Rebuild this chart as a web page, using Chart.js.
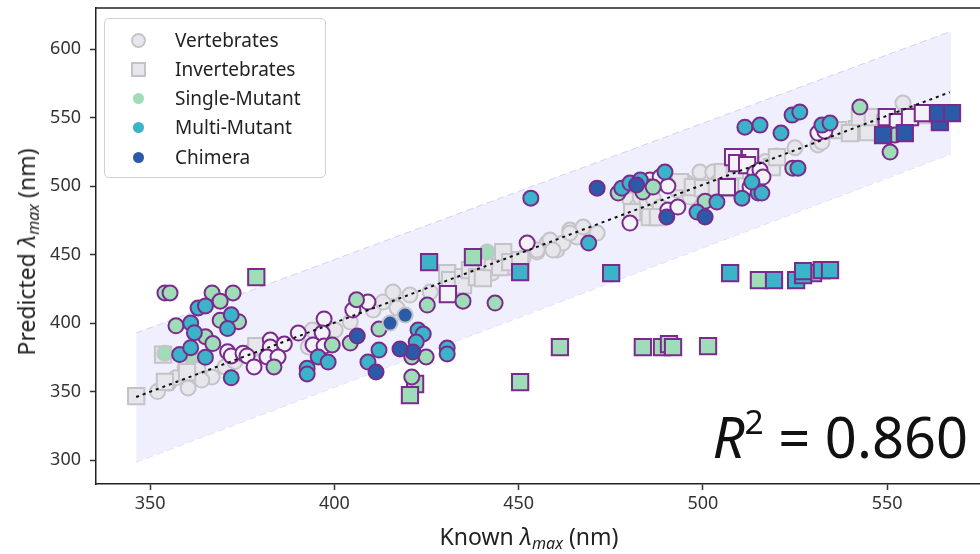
<!DOCTYPE html>
<html>
<head>
<meta charset="utf-8">
<script src="https://cdn.jsdelivr.net/npm/chart.js@4/dist/chart.umd.min.js"></script>
<style>
  body { margin: 0; background: #fff; font-family: 'Noto Sans', sans-serif; color: #222; }
  #wrap { position: relative; width: 980px; height: 554px; overflow: hidden; }
  #legend {
    position: absolute; left: 104px; top: 18px; width: 222px; height: 160px;
    border: 1.5px solid #d0d0d0; border-radius: 5px; background: rgba(255,255,255,0.85);
    box-sizing: border-box;
  }
  .row { position: absolute; left: 0; height: 29px; line-height: 29px; font-size: 19px; }
  .row span.t { position: absolute; left: 70px; white-space: nowrap; }
  .mk { position: absolute; box-sizing: border-box; }
  .ytitle {
    position: absolute; left: 27px; top: 252px; font-size: 23px; white-space: nowrap;
    transform: translate(-50%, -50%) rotate(-90deg);
  }
  .xtitle { position: absolute; left: 529px; top: 537px; font-size: 23px; white-space: nowrap; transform: translate(-50%, -50%); }
  .lam { font-style: italic; }
  sub { font-size: 0.7em; font-style: italic; vertical-align: -0.25em; }
  #r2 { position: absolute; right: 12px; top: 398px; font-size: 56px; white-space: nowrap; color: #111; }
  #r2 i { font-style: italic; }
  #r2 sup { font-size: 0.6em; vertical-align: 0.7em; line-height: 0; }
</style>
</head>
<body>
<div id="wrap">
  <canvas id="myChart" width="980" height="554"></canvas>
  <div id="legend">
    <div class="row" style="top:7px"><div class="mk" style="left:26px;top:7px;width:15px;height:15px;border-radius:50%;background:#e6e6ec;border:2px solid #c4c4c8"></div><span class="t">Vertebrates</span></div>
    <div class="row" style="top:36px"><div class="mk" style="left:26px;top:7px;width:15px;height:15px;background:#e6e6ec;border:2px solid #c4c4c8"></div><span class="t">Invertebrates</span></div>
    <div class="row" style="top:65px"><div class="mk" style="left:28px;top:9px;width:11px;height:11px;border-radius:50%;background:#9fdcb8"></div><span class="t">Single-Mutant</span></div>
    <div class="row" style="top:94px"><div class="mk" style="left:28px;top:9px;width:11px;height:11px;border-radius:50%;background:#3bb3c8"></div><span class="t">Multi-Mutant</span></div>
    <div class="row" style="top:124px"><div class="mk" style="left:28px;top:9px;width:11px;height:11px;border-radius:50%;background:#2a5aa8"></div><span class="t">Chimera</span></div>
  </div>
  <div class="ytitle">Predicted <span class="lam">λ</span><sub>max</sub> (nm)</div>
  <div class="xtitle">Known <span class="lam">λ</span><sub>max</sub> (nm)</div>
  <div id="r2"><i>R</i><sup>2</sup> = 0.860</div>
</div>
<script>
// 축 눈금
const xTicks = [350, 400, 450, 500, 550];
const yTicks = [300, 350, 400, 450, 500, 550, 600];

// 회귀선과 오차 범위
const fitX = [346.2, 567];
const fitY = [346, 568.5];
const bandX = [346.2, 567.3];
const bandUpper = [392.7, 613];
const bandLower = [298.5, 523.4];

// 야생형 (학습)
const vertebrates = [[352,350],[355,356],[357,360],[359.5,368],[361.4,363.5],[363,366],[366.8,360.6],[360.3,352.6],[364,358.4],[370.3,368],[373,372],[375,377],[378,381],[383,386],
  [392.9,382.5],[394,394.9],[399.4,393.4],[400.2,394.9],[404.3,400.7],[410.5,409.5],[413.2,415.3],[415.9,422.6],[417,411],[420.5,420.4],[426,422.6],[442.8,436.5],[445,442.3],[447.7,440.9],[451.2,447.4],[453.1,455.5],[455,451.8],[457.7,458.4],[455,453.3],[458.5,460.6],[460.4,453.3],[462,458.4],[463.9,467.9],[465.8,462.8],[467.5,470.1],[471.3,465.7],[459.3,453.3],[463.9,465.7],
  [480.2,489.8],[482,484.7],[483,492],[484.8,487.6],[486.5,491.2],[488.4,484.7],[493,497],[495.7,502.2],[501.1,508],[499.2,510.2],[502.7,510.2],[505.4,509.5],[503.8,502.2],[496.5,492],[517,518],[520,522],[525,528],[531.2,530],[532.3,532],[554.3,560.6]];
const invertebrates = [[346.2,346.7],[354,357],[360,364.2],[353.5,377],[378.8,383.2],[430.6,436.5],[431.4,431.4],[434.9,433.6],[434.9,427.7],[436.8,438.7],[438.7,433.6],[440.3,432.8],[443,444.5],[445,440.9],[445.8,451.8],[447.7,444.5],[450.4,446],
  [480.8,481],[485.6,477.4],[487.8,477.4],[493.8,502.9],[497.3,499.3],[500,498.5],[503.8,499.3],[507.4,498.5],[505.4,510.2],[508.7,511.7],[518.7,513.9],[520.1,521.2],[536.7,540.9],[541.8,541.6],[544.8,539.4],[539.9,538.7],[542.6,550.4],[546.1,550.4],[549.4,546],[552.9,548.2],[555.4,550.4],[559.4,551.8]];

// 야생형 (테스트, 보라 테두리)
const vertTest = [[371,379],[372,376],[375.2,378],[376.3,376],[378.2,368],[382.6,387.6],[382.6,382.5],[386.4,384.7],[381.7,375.2],[384.7,375.2],[390.2,392.7],[397.2,403],[396.7,392.7],[394.2,384],[397.2,383.2],[405,409.5],[409.1,415.3],[452.3,458.4],[480.2,473],[490.5,482.5],[493.2,484.7],[485.6,504.4],[488.4,506.6],[490.5,500],[485.6,499.3],[514.1,509.5],[512.8,499.3],[515.5,511.7],[516.3,506.6],[531.2,538.7],[533.1,540.1]];
const invTest = [[430.8,421.2],[508.2,521.2],[512.8,521.2],[509.3,516.8],[512,515.3],[506.5,499.3],[549.9,550.4],[552.9,546.7],[556.2,550.4],[559.7,553.3]];

// 돌연변이
const singleCirc = [[354,422],[355.4,422],[366.8,422],[369,416],[372.5,422],[357,398],[365,390],[367,385],[369,402],[374,401],[383.6,368],[399.4,384],[404.3,385.4],[406,417],[412.1,395.6],[421,375.2],[424.9,375.2],[421,360.6],[425.2,413.1],[434.9,416],[443.6,414.6],[477,494.9],[483.7,495.6],[486.5,499.3],[500.6,489],[524.4,513.1],[542.6,557.7],[550.8,524.8],[552.1,537.2]];
const singlePlain = [[354,378],[361,376],[441.4,451.8]];
const singleSq = [[378.8,433.6],[437.6,448.2],[421.9,355.5],[420.5,347.4],[450.4,356.9],[461.2,382.5],[483.7,382.5],[488.9,382.5],[490.8,384.7],[491.9,382.5],[501.4,383.2],[515.2,431.4],[529.9,436.5]];
const multiCirc = [[363,411],[365,412.5],[361,400],[362,393],[372,406],[371,396],[358,377],[361,382],[365,375],[372,360],[395.6,375.2],[398.3,371.5],[392.6,367],[392.6,362.8],[422.7,394.9],[424.1,392],[422.2,386.1],[412.1,380.3],[430.6,381.8],[430.6,377.4],[409.1,371.5],[453.3,491.2],[469,458.4],[478,498.5],[480.2,502.2],[483,504.4],[489.7,510.2],[498.4,481],[503.8,488.3],[510.6,491.2],[515,494.9],[513.3,502.9],[511.4,543],[515.5,544.5],[521.2,538.7],[524.2,551.8],[526.3,554],[532.3,544.5],[534.5,546],[525.8,513.1],[516,494.9]];
const multiSq = [[425.7,444.5],[450.4,437.2],[475.1,436.5],[507.4,436.5],[519.3,431.4],[525.3,431.4],[527.2,435],[527.2,437.9],[532.3,438.7],[534.5,438.7]];
const chimeraCirc = [[406.2,390.5],[421.3,378.8],[417.8,381],[411.3,364.2],[471.3,498.5],[482,500.7],[490.2,477.4],[500.6,477.4]];
const chimeraPlain = [[419.2,405.8],[415.1,400]];
const chimeraSq = [[548.9,537.2],[554.8,538.7],[564.3,546.7],[563.8,553.3],[567.6,553.3]];

const GRAY_FILL = '#e6e6ec', GRAY_EDGE = '#c4c4c8', PURPLE = '#7a2a8c';
const GREEN = '#9fdcb8', TEAL = '#3bb3c8', BLUE = '#2a5aa8', WHITE = '#f2f2f8';

function pts(arr) {
  return arr.map(p => ({ x: p[0], y: p[1] }));
}

// 산점도 데이터셋 생성
function scatterSet(label, arr, style, fill, edge, order) {
  return {
    type: 'scatter',
    label: label,
    data: pts(arr),
    pointStyle: style,
    pointRadius: style === 'rect' ? 11.5 : 7.5,
    pointBackgroundColor: fill,
    pointBorderColor: edge,
    pointBorderWidth: 2,
    showLine: false,
    order: order
  };
}

// 위쪽 테두리선
const framePlugin = {
  id: 'frame',
  afterDraw(chart) {
    const { ctx, chartArea } = chart;
    ctx.save();
    ctx.strokeStyle = '#222';
    ctx.lineWidth = 1.5;
    ctx.beginPath();
    ctx.moveTo(chartArea.left, chartArea.top);
    ctx.lineTo(chartArea.right + 5, chartArea.top);
    ctx.stroke();
    ctx.restore();
  }
};

const ctx = document.getElementById('myChart').getContext('2d');
new Chart(ctx, {
  type: 'scatter',
  data: {
    datasets: [
      {
        type: 'line', label: 'band-upper',
        data: bandX.map((x, i) => ({ x: x, y: bandUpper[i] })),
        borderColor: 'rgba(205,205,245,0.9)', borderDash: [7, 4], borderWidth: 1,
        pointRadius: 0, fill: '+1', backgroundColor: '#efeffd', order: 20
      },
      {
        type: 'line', label: 'band-lower',
        data: bandX.map((x, i) => ({ x: x, y: bandLower[i] })),
        borderColor: 'rgba(205,205,245,0.9)', borderDash: [7, 4], borderWidth: 1,
        pointRadius: 0, fill: false, order: 21
      },
      scatterSet('Vertebrates', vertebrates, 'circle', GRAY_FILL, GRAY_EDGE, 12),
      scatterSet('Invertebrates', invertebrates, 'rect', GRAY_FILL, GRAY_EDGE, 11),
      scatterSet('vertTest', vertTest, 'circle', WHITE, PURPLE, 8),
      scatterSet('invTest', invTest, 'rect', WHITE, PURPLE, 8),
      scatterSet('Single-Mutant', singleCirc, 'circle', GREEN, PURPLE, 5),
      scatterSet('single-plain', singlePlain, 'circle', GREEN, GRAY_EDGE, 6),
      scatterSet('single-sq', singleSq, 'rect', GREEN, PURPLE, 5),
      scatterSet('Multi-Mutant', multiCirc, 'circle', TEAL, PURPLE, 4),
      scatterSet('multi-sq', multiSq, 'rect', TEAL, PURPLE, 4),
      scatterSet('Chimera', chimeraCirc, 'circle', BLUE, PURPLE, 3),
      scatterSet('chimera-plain', chimeraPlain, 'circle', BLUE, GRAY_EDGE, 3),
      scatterSet('chimera-sq', chimeraSq, 'rect', BLUE, PURPLE, 3),
      {
        type: 'line', label: 'fit',
        data: fitX.map((x, i) => ({ x: x, y: fitY[i] })),
        borderColor: '#111', borderDash: [3, 4], borderWidth: 2,
        pointRadius: 0, fill: false, order: 0
      }
    ]
  },
  options: {
    responsive: false,
    animation: false,
    devicePixelRatio: 1,
    layout: { autoPadding: false, padding: { top: 8, right: 0, left: 0, bottom: 0 } },
    plugins: { legend: { display: false }, tooltip: { enabled: false } },
    scales: {
      x: {
        type: 'linear', min: 335.3, max: 575.2,
        afterBuildTicks: s => { s.ticks = xTicks.map(v => ({ value: v })); },
        afterFit: s => { s.height = 70; s.paddingLeft = 0; s.paddingRight = 0; },
        grid: { drawOnChartArea: false, tickLength: 6, tickColor: '#333', tickWidth: 1.5 },
        border: { color: '#222', width: 1.5 },
        ticks: { color: '#333', font: { family: 'Noto Sans', size: 18 }, padding: 3 }
      },
      y: {
        type: 'linear', min: 282.5, max: 630,
        afterBuildTicks: s => { s.ticks = yTicks.map(v => ({ value: v })); },
        afterFit: s => { s.width = 96; s.paddingTop = 0; s.paddingBottom = 0; },
        grid: { drawOnChartArea: false, tickLength: 6, tickColor: '#333', tickWidth: 1.5 },
        border: { color: '#222', width: 1.5 },
        ticks: { color: '#333', font: { family: 'Noto Sans', size: 18 }, padding: 9 }
      }
    }
  },
  plugins: [framePlugin]
});
</script>
</body>
</html>
